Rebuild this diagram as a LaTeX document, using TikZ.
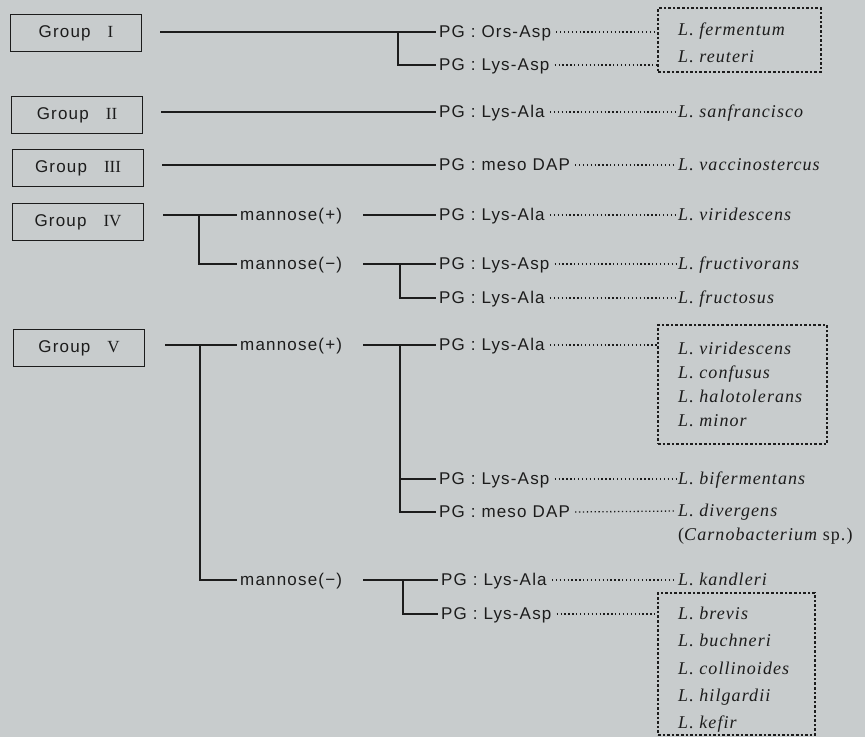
\documentclass[tikz,border=0pt]{standalone}
\usepackage{fontspec}
\setmainfont{Liberation Serif}
\newfontfamily\labfont[LetterSpace=7]{Liberation Sans}
\newfontfamily\spfont[LetterSpace=6]{Liberation Serif}
\definecolor{bgcol}{RGB}{200,204,205}
\definecolor{ink}{RGB}{28,28,28}
\tikzset{
  grp/.style={draw=ink, line width=1.5pt, minimum width=131pt, minimum height=37pt,
    inner sep=0pt, text=ink, font={\labfont\fontsize{17}{20}\selectfont}},
  lab/.style={anchor=west, inner xsep=3pt, inner ysep=0pt, text height=11pt, text depth=1pt,
    text=ink, font={\labfont\fontsize{17}{20}\selectfont}},
  sp/.style={anchor=west, inner xsep=2pt, inner ysep=0pt, text height=11pt, text depth=1pt,
    text=ink, font={\spfont\fontsize{18}{20}\selectfont\itshape}},
  tree/.style={draw=ink, line width=1.4pt},
  leader/.style={draw=ink, line width=1.3pt, dash pattern=on 1.3pt off 2.6pt, shorten <=2pt},
  spbox/.style={draw=ink, line width=1.3pt, dash pattern=on 2.6pt off 2pt, inner sep=0pt}
}
\newcommand{\grpname}[1]{Group\hspace{17pt}{\rmfamily #1}}
\begin{document}
\begin{tikzpicture}[x=1pt,y=-1pt]
\useasboundingbox (0,0) rectangle (865,737);
\fill[bgcol] (0,0) rectangle (865,737);

% ---------- group boxes ----------
\node[grp] (g1) at (76,33)  {\grpname{I}};
\node[grp] (g2) at (77,115) {\grpname{II}};
\node[grp] (g3) at (78,168) {\grpname{III}};
\node[grp] (g4) at (78,222) {\grpname{IV}};
\node[grp] (g5) at (79,348) {\grpname{V}};

% ---------- mannose branches ----------
\node[lab] (m4p) at (237,215) {mannose(+)};
\node[lab] (m4m) at (237,264) {mannose(−)};
\node[lab] (m5p) at (237,345) {mannose(+)};
\node[lab] (m5m) at (237,580) {mannose(−)};

% ---------- peptidoglycan types ----------
\node[lab] (pg1a) at (436,32)  {PG : Ors-Asp};
\node[lab] (pg1b) at (436,65)  {PG : Lys-Asp};
\node[lab] (pg2)  at (436,112) {PG : Lys-Ala};
\node[lab] (pg3)  at (436,165) {PG : meso DAP};
\node[lab] (pg4a) at (436,215) {PG : Lys-Ala};
\node[lab] (pg4b) at (436,264) {PG : Lys-Asp};
\node[lab] (pg4c) at (436,298) {PG : Lys-Ala};
\node[lab] (pg5a) at (436,345) {PG : Lys-Ala};
\node[lab] (pg5b) at (436,479) {PG : Lys-Asp};
\node[lab] (pg5c) at (436,512) {PG : meso DAP};
\node[lab] (pg5d) at (438,580) {PG : Lys-Ala};
\node[lab] (pg5e) at (438,614) {PG : Lys-Asp};

% ---------- species ----------
\node[spbox, minimum width=163pt, minimum height=64pt]  (b1) at (739.5,40)    {};
\node[sp] (s1a) at (676,30) {L. fermentum};
\node[sp] (s1b) at (676,57) {L. reuteri};

\node[sp] (s2) at (676,112) {L. sanfrancisco};
\node[sp] (s3) at (676,165) {L. vaccinostercus};
\node[sp] (s4a) at (676,215) {L. viridescens};
\node[sp] (s4b) at (676,264) {L. fructivorans};
\node[sp] (s4c) at (676,298) {L. fructosus};

\node[spbox, minimum width=169pt, minimum height=119pt] (b5) at (742.5,384.5) {};
\node[sp] (s5a) at (676,349) {L. viridescens};
\node[sp] (s5b) at (676,373) {L. confusus};
\node[sp] (s5c) at (676,397) {L. halotolerans};
\node[sp] (s5d) at (676,421) {L. minor};

\node[sp] (s5e) at (676,479) {L. bifermentans};
\node[sp] (s5f) at (676,511) {L. divergens};
\node[sp] (s5g) at (676,535) {\upshape(\itshape Carnobacterium \upshape sp.)};
\node[sp] (s5h) at (676,580) {L. kandleri};

\node[spbox, minimum width=157pt, minimum height=142pt] (b6) at (736.5,664) {};
\node[sp] (s6a) at (676,614) {L. brevis};
\node[sp] (s6b) at (676,641) {L. buchneri};
\node[sp] (s6c) at (676,669) {L. collinoides};
\node[sp] (s6d) at (676,696) {L. hilgardii};
\node[sp] (s6e) at (676,723) {L. kefir};

% ---------- tree connectors ----------
\coordinate (r1) at (160,32);
\coordinate (r2) at (161,112);
\coordinate (r3) at (162,165);
\coordinate (r4) at (163,215);
\coordinate (r5) at (165,345);
\coordinate (j1) at (398,32);
\coordinate (j4) at (199,215);
\coordinate (j5) at (200,345);
\coordinate (t4p) at (363,215);
\coordinate (t4m) at (363,264);
\coordinate (k4) at (400,264);
\coordinate (t5p) at (363,345);
\coordinate (k5) at (400,345);
\coordinate (t5m) at (363,580);
\coordinate (k5m) at (403,580);

\draw[tree] (r1) -- (pg1a.west);
\draw[tree] (j1) |- (pg1b.west);
\draw[tree] (r2) -- (pg2.west);
\draw[tree] (r3) -- (pg3.west);

\draw[tree] (r4) -- (m4p.west);
\draw[tree] (j4) |- (m4m.west);
\draw[tree] (t4p) -- (pg4a.west);
\draw[tree] (t4m) -- (pg4b.west);
\draw[tree] (k4) |- (pg4c.west);

\draw[tree] (r5) -- (m5p.west);
\draw[tree] (j5) |- (m5m.west);
\draw[tree] (t5p) -- (pg5a.west);
\draw[tree] (k5) |- (pg5b.west);
\draw[tree] (k5) |- (pg5c.west);
\draw[tree] (t5m) -- (pg5d.west);
\draw[tree] (k5m) |- (pg5e.west);

% ---------- dotted leaders ----------
\draw[leader] (pg1a.east) -- (pg1a.east -| b1.west);
\draw[leader] (pg1b.east) -- (pg1b.east -| b1.west);
\draw[leader] (pg2.east) -- (s2.west);
\draw[leader] (pg3.east) -- (s3.west);
\draw[leader] (pg4a.east) -- (s4a.west);
\draw[leader] (pg4b.east) -- (s4b.west);
\draw[leader] (pg4c.east) -- (s4c.west);
\draw[leader] (pg5a.east) -- (pg5a.east -| b5.west);
\draw[leader] (pg5b.east) -- (s5e.west);
\draw[leader] (pg5c.east) -- (s5f.west);
\draw[leader] (pg5d.east) -- (s5h.west);
\draw[leader] (pg5e.east) -- (pg5e.east -| b6.west);
\end{tikzpicture}
\end{document}
